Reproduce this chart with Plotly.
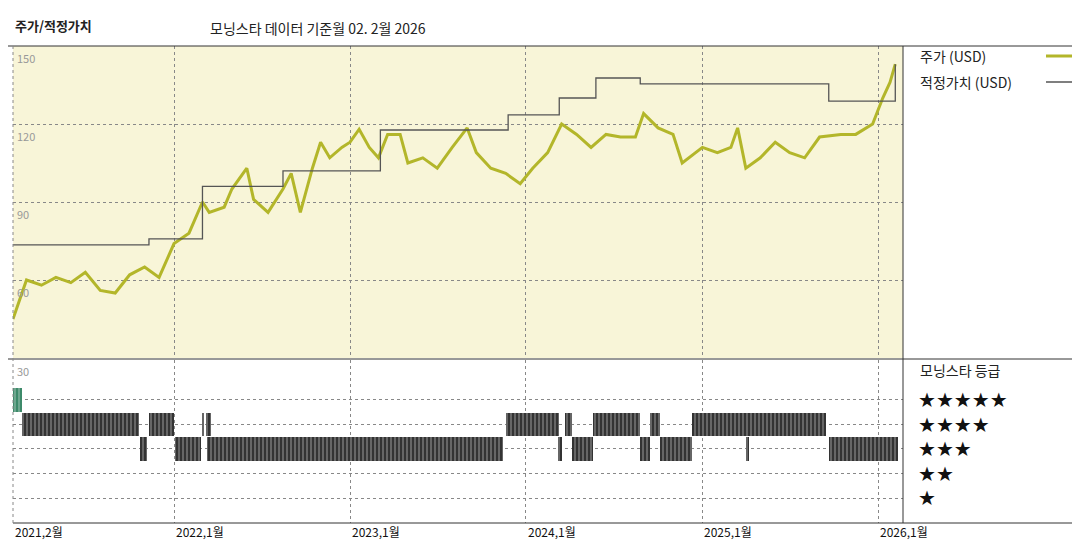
import plotly.graph_objects as go
import pandas as pd

price_dates = ["2021-02-01","2021-03-01","2021-04-01","2021-05-01","2021-06-01","2021-07-01","2021-08-01","2021-09-01","2021-10-01","2021-11-01","2021-12-01",
"2022-01-01","2022-02-01","2022-03-01","2022-03-15","2022-04-15","2022-05-01","2022-06-01","2022-06-15","2022-07-15","2022-08-15","2022-09-01","2022-09-20","2022-10-15","2022-11-01","2022-11-20","2022-12-15",
"2023-01-01","2023-01-20","2023-02-10","2023-03-01","2023-03-20","2023-04-15","2023-05-01","2023-06-01","2023-07-01","2023-08-01","2023-09-01","2023-09-20","2023-10-20","2023-11-20","2023-12-20",
"2024-01-15","2024-02-15","2024-03-15","2024-04-15","2024-05-15","2024-06-15","2024-07-15","2024-08-15","2024-09-01","2024-10-01","2024-11-01","2024-11-20",
"2025-01-01","2025-02-01","2025-03-01","2025-03-15","2025-04-01","2025-05-01","2025-06-01","2025-07-01","2025-08-01","2025-09-01","2025-10-15","2025-11-15","2025-12-20","2026-01-10","2026-01-25","2026-02-05"]
price_vals = [45,60,58,61,59,63,56,55,62,65,61,
74,78,90,86,88,95,103,91,86,95,101,86,103,113,107,111,
113,118,111,107,116,116,105,107,103,111,118.5,109,103,101,97,
103,109,120,116,111,116,115,115,124,118.5,116,105,
111,109,111,118.5,103,107,113,109,107,115,116,116,120,130,136,143]

fv_dates = ["2021-02-01","2021-11-10","2022-03-01","2022-08-15","2023-03-05","2023-11-25","2024-03-10","2024-05-25","2024-08-25","2025-09-20","2026-02-05"]
fv_vals = [73.5,75.8,96,102,117.7,123.5,130,137.7,135.4,128.8,143]

rating_start = ["2021-02-01","2021-02-20","2021-11-10","2022-03-01","2022-03-08","2023-11-20","2024-03-22","2024-05-20","2024-09-15","2024-12-10",
"2021-10-22","2022-01-03","2022-03-10","2024-03-08","2024-04-05","2024-08-25","2024-10-05","2025-04-01","2025-09-20"]
rating_end = ["2021-02-20","2021-10-20","2021-12-31","2022-03-05","2022-03-18","2024-03-10","2024-04-05","2024-08-25","2024-10-05","2025-09-15",
"2021-11-05","2022-02-25","2023-11-15","2024-03-16","2024-05-20","2024-09-15","2024-12-10","2025-04-07","2026-02-10"]
rating_star = [5,4,4,4,4,4,4,4,4,4,3,3,3,3,3,3,3,3,3]

tick_dates = ["2021-02-01","2022-01-01","2023-01-01","2024-01-01","2025-01-01","2026-01-01"]
tick_labels = ["2021,2월","2022,1월","2023,1월","2024,1월","2025,1월","2026,1월"]

FONT = "Noto Sans CJK KR"
fig = go.Figure()
fig.add_trace(go.Scatter(x=price_dates, y=price_vals, mode="lines", line=dict(color="#b3b62a", width=3), xaxis="x", yaxis="y"))
fig.add_trace(go.Scatter(x=fv_dates, y=fv_vals, mode="lines", line=dict(color="#555555", width=1.3, shape="hv"), xaxis="x", yaxis="y"))

s = pd.to_datetime(rating_start); e = pd.to_datetime(rating_end)
mid = s + (e - s) / 2
wid = [(b - a).total_seconds() * 1000 for a, b in zip(s, e)]
cols = ["#3d8a6a" if r == 5 else "#333333" for r in rating_star]
fig.add_trace(go.Bar(x=mid, y=[0.95]*len(rating_star), base=[r-0.475 for r in rating_star], width=wid,
                     marker=dict(color=cols, line=dict(width=0), pattern=dict(shape="|", fgcolor="#9a9a9a", size=4, solidity=0.25)),
                     xaxis="x2", yaxis="y2"))

xr = ["2021-02-01", "2026-02-21"]
grid = dict(showgrid=True, gridcolor="#888888", griddash="dot", gridwidth=1)
fig.update_layout(
    width=1080, height=540, margin=dict(l=0, r=0, t=0, b=0), showlegend=False,
    paper_bgcolor="white", plot_bgcolor="white", bargap=0,
    xaxis=dict(domain=[5/1080, 895/1080], range=xr, type="date", anchor="y", tickvals=tick_dates[1:], showticklabels=False, zeroline=False, **grid),
    yaxis=dict(domain=[1-350/540, 1-38/540], range=[30, 150], tickvals=[60, 90, 120], showticklabels=False, zeroline=False, **grid),
    xaxis2=dict(domain=[5/1080, 895/1080], range=xr, type="date", anchor="y2", tickvals=tick_dates[1:], showticklabels=False, zeroline=False, **grid),
    yaxis2=dict(domain=[1-515/540, 1-352/540], range=[-0.02, 6.63], tickvals=[1, 2, 3, 4, 5], showticklabels=False, zeroline=False, **grid),
    shapes=[
        dict(type="rect", xref="x domain", yref="y domain", x0=0, x1=1, y0=0, y1=1, fillcolor="#f8f5d8", line=dict(width=0), layer="below"),
        dict(type="line", xref="paper", yref="paper", x0=0, x1=1, y0=1-38/540, y1=1-38/540, line=dict(color="#333", width=1)),
        dict(type="line", xref="paper", yref="paper", x0=0, x1=1, y0=1-351/540, y1=1-351/540, line=dict(color="#333", width=1)),
        dict(type="line", xref="paper", yref="paper", x0=5/1080, x1=1, y0=1-515/540, y1=1-515/540, line=dict(color="#333", width=1)),
        dict(type="line", xref="paper", yref="paper", x0=895/1080, x1=895/1080, y0=1-515/540, y1=1-38/540, line=dict(color="#333", width=1)),
        dict(type="line", xref="paper", yref="paper", x0=5/1080, x1=5/1080, y0=1-515/540, y1=1-38/540, line=dict(color="#888", width=1, dash="dot")),
        dict(type="line", xref="paper", yref="paper", x0=1038/1080, x1=1072/1080, y0=1-48/540, y1=1-48/540, line=dict(color="#b3b62a", width=3)),
        dict(type="line", xref="paper", yref="paper", x0=1038/1080, x1=1072/1080, y0=1-74/540, y1=1-74/540, line=dict(color="#555", width=1.3)),
    ],
)
ann = [
    dict(text="<b>주가/적정가치</b>", x=5/1080, y=1-18/540, font=dict(size=13, color="#222")),
    dict(text="모닝스타 데이터 기준월 02. 2월 2026", x=200/1080, y=1-20/540, font=dict(size=14, color="#222")),
    dict(text="주가 (USD)", x=910/1080, y=1-48/540, font=dict(size=14, color="#222")),
    dict(text="적정가치 (USD)", x=910/1080, y=1-74/540, font=dict(size=14, color="#222")),
    dict(text="모닝스타 등급", x=910/1080, y=1-362/540, font=dict(size=14, color="#222")),
    dict(text="30", x=7/1080, y=1-363/540, font=dict(size=11, color="#999")),
]
for k, lab in enumerate(["150", "120", "90", "60"]):
    ann.append(dict(text=lab, x=7/1080, y=1-(50+78*k)/540, font=dict(size=11, color="#999")))
for k, n in enumerate([5, 4, 3, 2, 1]):
    ann.append(dict(text="★"*n, x=908/1080, y=1-(392+24.5*k)/540, font=dict(size=20, color="#111", family="DejaVu Sans")))
annotations = [dict(a, xref="paper", yref="paper", xanchor="left", yanchor="middle", showarrow=False,
                    font=dict(family=a["font"].get("family", FONT), size=a["font"]["size"], color=a["font"]["color"])) for a in ann]
for d, lab in zip(tick_dates, tick_labels):
    annotations.append(dict(text=lab, x=d, xref="x2", y=1-523/540, yref="paper", xanchor="left", yanchor="middle",
                            showarrow=False, font=dict(family=FONT, size=12, color="#111")))
fig.update_layout(annotations=annotations)
fig.write_html("out.html")
